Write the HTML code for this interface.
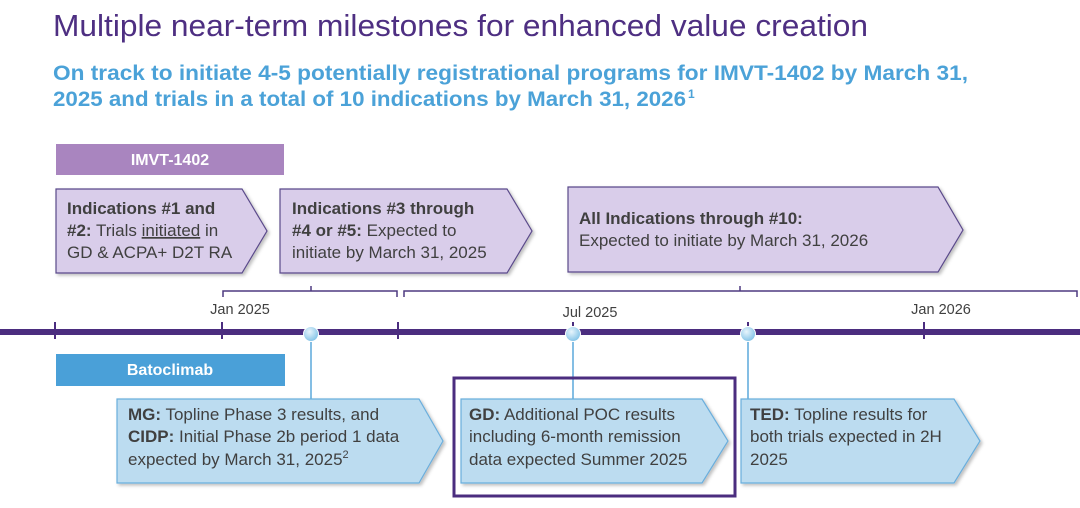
<!DOCTYPE html>
<html><head><meta charset="utf-8"><style>
html,body{margin:0;padding:0;background:#fff}
svg{display:block}
text{font-family:"Liberation Sans",Arial,sans-serif}
</style></head><body>
<svg width="1080" height="508" viewBox="0 0 1080 508">
<defs>
<radialGradient id="dot" cx="40%" cy="35%" r="70%"><stop offset="0" stop-color="#e8f5fc"/><stop offset="1" stop-color="#7cc0e6"/></radialGradient>
<filter id="sh" x="-5%" y="-5%" width="115%" height="120%"><feDropShadow dx="2" dy="2" stdDeviation="1.5" flood-color="#000" flood-opacity="0.25"/></filter>
</defs>
<text x="53" y="36" font-size="31" fill="#4e2f82" textLength="815" lengthAdjust="spacingAndGlyphs">Multiple near-term milestones for enhanced value creation</text>
<g font-size="21" font-weight="bold" fill="#4ba2d8">
<text x="53" y="80" textLength="915" lengthAdjust="spacingAndGlyphs">On track to initiate 4-5 potentially registrational programs for IMVT-1402 by March 31,</text>
<text x="53" y="106" textLength="633" lengthAdjust="spacingAndGlyphs">2025 and trials in a total of 10 indications by March 31, 2026</text>
<text x="688" y="98" font-size="12">1</text>
</g>
<g>
<rect x="56" y="144" width="228" height="31" fill="#a985bf"/>
<text x="170" y="165" text-anchor="middle" font-size="16" font-weight="bold" fill="#fff">IMVT-1402</text>
</g>
<g font-size="17" fill="#404040">
<g>
<polygon points="56,189 242,189 267,231 242,273 56,273" fill="#d9cdea" stroke="#5a4a8a" stroke-width="1.2" filter="url(#sh)"/>
<text x="67" y="214"><tspan font-weight="bold">Indications #1 and</tspan></text>
<text x="67" y="236"><tspan font-weight="bold">#2:</tspan> Trials <tspan text-decoration="underline">initiated</tspan> in</text>
<text x="67" y="258">GD &amp; ACPA+ D2T RA</text>
</g>
<g>
<polygon points="280,189 507,189 532,231 507,273 280,273" fill="#d9cdea" stroke="#5a4a8a" stroke-width="1.2" filter="url(#sh)"/>
<text x="292" y="214" font-weight="bold">Indications #3 through</text>
<text x="292" y="236"><tspan font-weight="bold">#4 or #5:</tspan> Expected to</text>
<text x="292" y="258">initiate by March 31, 2025</text>
</g>
<g>
<polygon points="568,187 938,187 963,230 938,272 568,272" fill="#d9cdea" stroke="#5a4a8a" stroke-width="1.2" filter="url(#sh)"/>
<text x="579" y="224" font-weight="bold">All Indications through #10:</text>
<text x="579" y="246">Expected to initiate by March 31, 2026</text>
</g>
</g>
<g fill="none" stroke="#4e3a80" stroke-width="1.5">
<path d="M223,297 V291 H397 V297 M311,291 V286"/>
<path d="M404,297 V291 H1077 V297 M740,291 V286"/>
</g>
<g>
<rect x="0" y="329" width="1080" height="6" fill="#4b2d7f"/>
<g stroke="#4b2d7f" stroke-width="2">
<line x1="55" y1="322" x2="55" y2="339"/><line x1="222" y1="322" x2="222" y2="339"/><line x1="398" y1="322" x2="398" y2="339"/>
<line x1="573" y1="322" x2="573" y2="339"/><line x1="748" y1="322" x2="748" y2="339"/><line x1="924" y1="322" x2="924" y2="339"/>
</g>
<g font-size="14.5" fill="#404040" text-anchor="middle">
<text x="240" y="314">Jan 2025</text>
<text x="590" y="317">Jul 2025</text>
<text x="941" y="314">Jan 2026</text>
</g>
</g>
<g stroke="#5aa9db" stroke-width="1.5">
<line x1="311" y1="334" x2="311" y2="399"/><line x1="573" y1="334" x2="573" y2="399"/><line x1="748" y1="334" x2="748" y2="399"/>
</g>
<g stroke="#fff" stroke-width="1">
<circle cx="311" cy="334" r="7.5" fill="url(#dot)"/><circle cx="573" cy="334" r="7.5" fill="url(#dot)"/><circle cx="748" cy="334" r="7.5" fill="url(#dot)"/>
</g>
<g>
<rect x="56" y="354" width="229" height="32" fill="#4aa0d8"/>
<text x="170" y="375" text-anchor="middle" font-size="16" font-weight="bold" fill="#fff">Batoclimab</text>
</g>
<rect x="454" y="378" width="281" height="118" fill="none" stroke="#4b2d7f" stroke-width="3"/>
<g font-size="17" fill="#404040">
<g>
<polygon points="117,399 419,399 443,441 419,483 117,483" fill="#bcdcf0" stroke="#6aaedc" stroke-width="1.2" filter="url(#sh)"/>
<text x="128" y="420"><tspan font-weight="bold">MG:</tspan> Topline Phase 3 results, and</text>
<text x="128" y="442"><tspan font-weight="bold">CIDP:</tspan> Initial Phase 2b period 1 data</text>
<text x="128" y="465">expected by March 31, 2025<tspan font-size="11" dy="-7">2</tspan></text>
</g>
<g>
<polygon points="461,399 702,399 728,441 702,483 461,483" fill="#bcdcf0" stroke="#6aaedc" stroke-width="1.2" filter="url(#sh)"/>
<text x="469" y="420"><tspan font-weight="bold">GD:</tspan> Additional POC results</text>
<text x="469" y="442">including 6-month remission</text>
<text x="469" y="465">data expected Summer 2025</text>
</g>
<g>
<polygon points="741,399 954,399 980,441 954,483 741,483" fill="#bcdcf0" stroke="#6aaedc" stroke-width="1.2" filter="url(#sh)"/>
<text x="750" y="420"><tspan font-weight="bold">TED:</tspan> Topline results for</text>
<text x="750" y="442">both trials expected in 2H</text>
<text x="750" y="465">2025</text>
</g>
</g>
</svg>
</body></html>
